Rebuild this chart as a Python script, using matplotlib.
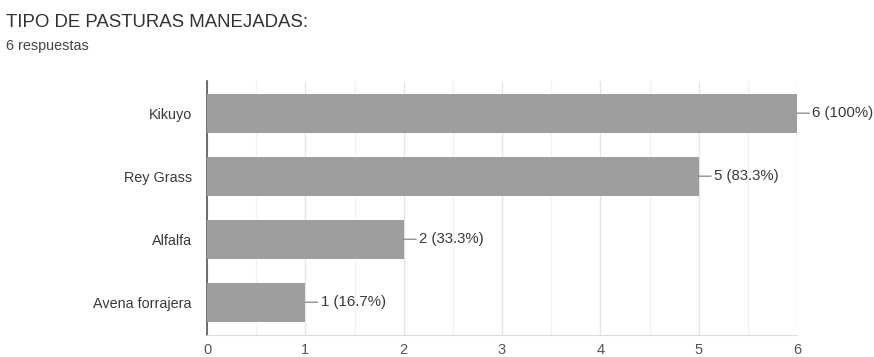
import matplotlib
matplotlib.use("Agg")
import matplotlib.pyplot as plt
import numpy as np

categories = ["Kikuyo", "Rey Grass", "Alfalfa", "Avena forrajera"]
values = [6, 5, 2, 1]
labels = ["6 (100%)", "5 (83.3%)", "2 (33.3%)", "1 (16.7%)"]
xticks = [0, 1, 2, 3, 4, 5, 6]
title = "TIPO DE PASTURAS MANEJADAS:"
subtitle = "6 respuestas"

plt.rcParams['font.family'] = ['Liberation Sans', 'DejaVu Sans']

fig = plt.figure(figsize=(8.74, 3.57), dpi=100)
ax = fig.add_axes([207/874, 1-335/357, (797-207)/874, (335-81)/357])

y = np.arange(len(categories))
ax.barh(y, values, height=0.62, color="#9e9e9e", zorder=3)
ax.set_ylim(3.52, -0.51)
ax.set_xlim(0, 6)
ax.set_yticks(y)
ax.set_yticklabels(categories, fontsize=10.4, color="#3a3a3a")
ax.set_xticks(xticks)
ax.set_xticklabels([str(t) for t in xticks], fontsize=10.5, color="#555555")
ax.set_xticks(np.arange(0.5, 6, 1), minor=True)
ax.tick_params(axis='y', length=0, pad=11)
ax.tick_params(axis='x', length=0, pad=6)
ax.tick_params(axis='x', which='minor', length=0)
ax.grid(axis='x', which='major', color="#e6e6e6", linewidth=1, zorder=0)
ax.grid(axis='x', which='minor', color="#f2f2f2", linewidth=1, zorder=0)
for s in ["top", "right"]:
    ax.spines[s].set_visible(False)
ax.spines["left"].set_color("#555555")
ax.spines["left"].set_linewidth(1.2)
ax.spines["bottom"].set_color("#dddddd")

for yi, v, lab in zip(y, values, labels):
    ax.annotate(lab, xy=(v, yi), xytext=(11, 0), textcoords='offset points',
                va='center', ha='left', fontsize=10.8, color="#3a3a3a",
                arrowprops=dict(arrowstyle='-', color="#777777", lw=0.8,
                                shrinkA=0, shrinkB=0), annotation_clip=False)

fig.text(6/874, 1-27/357, title, fontsize=13.4, color="#333333", ha='left', va='baseline')
fig.text(6/874, 1-50/357, subtitle, fontsize=10.4, color="#444444", ha='left', va='baseline')

fig.savefig("out.png", dpi=100)
